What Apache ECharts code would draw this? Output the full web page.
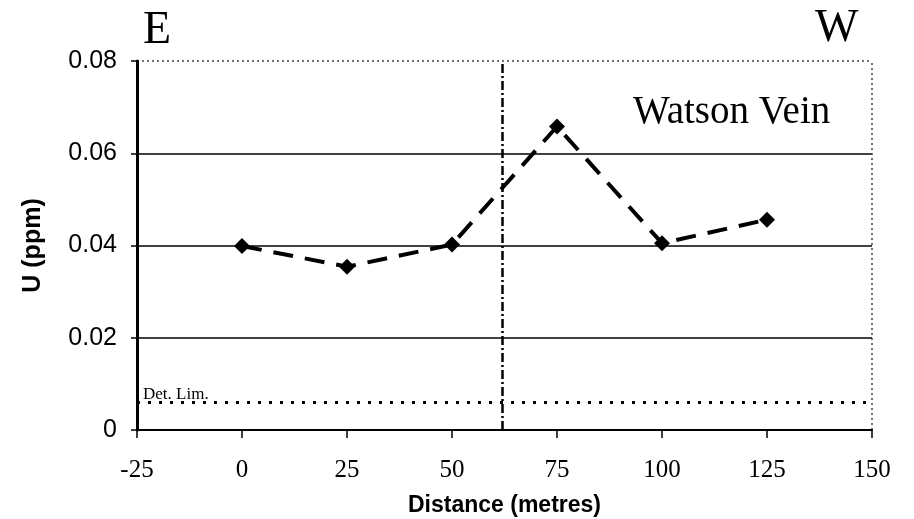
<!DOCTYPE html>
<html>
<head>
<meta charset="utf-8">
<script src="https://cdn.jsdelivr.net/npm/echarts@6/dist/echarts.min.js"></script>
<style>html,body{margin:0;padding:0;background:#fff}#c{width:914px;height:519px}</style>
</head>
<body>
<div id="c"></div>
<script>
const distances = [0, 25, 50, 75, 100, 125];
const uValues = [0.0399, 0.0354, 0.0402, 0.0658, 0.0405, 0.0456];
const xTicks = [-25, 0, 25, 50, 75, 100, 125, 150];
const yTicks = [0, 0.02, 0.04, 0.06, 0.08];
const gridValues = [0.02, 0.04, 0.06];
const detLimit = 0.006;
const boundaryX = 62;

const chart = echarts.init(document.getElementById('c'), null, {renderer: 'canvas'});
const serif = '"Liberation Serif", "Times New Roman", serif';
const sans = '"Liberation Sans", Arial, sans-serif';

chart.setOption({
  animation: false,
  backgroundColor: '#fff',
  grid: {left: 137, right: 42, top: 61, bottom: 89, show: false,
    outerBoundsMode: 'none', containLabel: false},
  xAxis: {
    type: 'value', min: -25, max: 150, interval: 25,
    name: 'Distance (metres)', nameLocation: 'middle', nameGap: 64,
    nameTextStyle: {fontFamily: sans, fontWeight: 'bold', fontSize: 23, color: '#000'},
    axisLine: {show: true, onZero: false, lineStyle: {color: '#000', width: 2}},
    axisTick: {show: true, length: 8, lineStyle: {color: '#000', width: 1.5}},
    axisLabel: {margin: 28, fontFamily: serif, fontSize: 25, color: '#000'},
    splitLine: {show: false},
    z: 10
  },
  yAxis: {
    type: 'value', min: 0, max: 0.08, interval: 0.02,
    name: 'U (ppm)', nameLocation: 'middle', nameGap: 91,
    nameTextStyle: {fontFamily: sans, fontWeight: 'bold', fontSize: 25, color: '#000'},
    axisLine: {show: true, onZero: false, lineStyle: {color: '#000', width: 3}},
    axisTick: {show: true, length: 6, lineStyle: {color: '#000', width: 1.5}},
    axisLabel: {margin: 20, fontFamily: sans, fontSize: 25, color: '#000',
      formatter: v => (v === 0 ? '0' : v.toFixed(2))},
    splitLine: {show: false},
    z: 10
  },
  series: [
    {
      type: 'line', silent: true,
      data: distances.map((d, i) => [d, uValues[i]]),
      symbol: 'diamond', symbolSize: 16,
      itemStyle: {color: '#000'},
      lineStyle: {color: '#000', width: 4, type: [20, 12]},
      z: 5,
      markLine: {
        silent: true, symbol: 'none', label: {show: false}, precision: 4,
        data: [
          ...gridValues.map(v => ({yAxis: v, lineStyle: {color: '#000', width: 1.5, type: 'solid'}})),
          {yAxis: 0.08, lineStyle: {color: '#444', width: 1.5, type: [2, 3]}},
          {xAxis: 150, lineStyle: {color: '#444', width: 1.5, type: [2, 3]}},
          {xAxis: boundaryX, lineStyle: {color: '#000', width: 2.5, type: [9, 3, 2, 3]}},
          {yAxis: detLimit, lineStyle: {color: '#000', width: 3, type: [3, 8]}}
        ]
      }
    }
  ],
  graphic: [
    {type: 'text', left: 143, top: 8, style: {text: 'E', font: '46px ' + serif, fill: '#000'}},
    {type: 'text', left: 815, top: 6, style: {text: 'W', font: '46px ' + serif, fill: '#000'}},
    {type: 'text', left: 633, top: 93, style: {text: 'Watson Vein', font: '39px ' + serif, fill: '#000'}},
    {type: 'text', left: 143, top: 386, style: {text: 'Det. Lim.', font: '17px ' + serif, fill: '#000'}}
  ]
});
</script>
</body>
</html>
